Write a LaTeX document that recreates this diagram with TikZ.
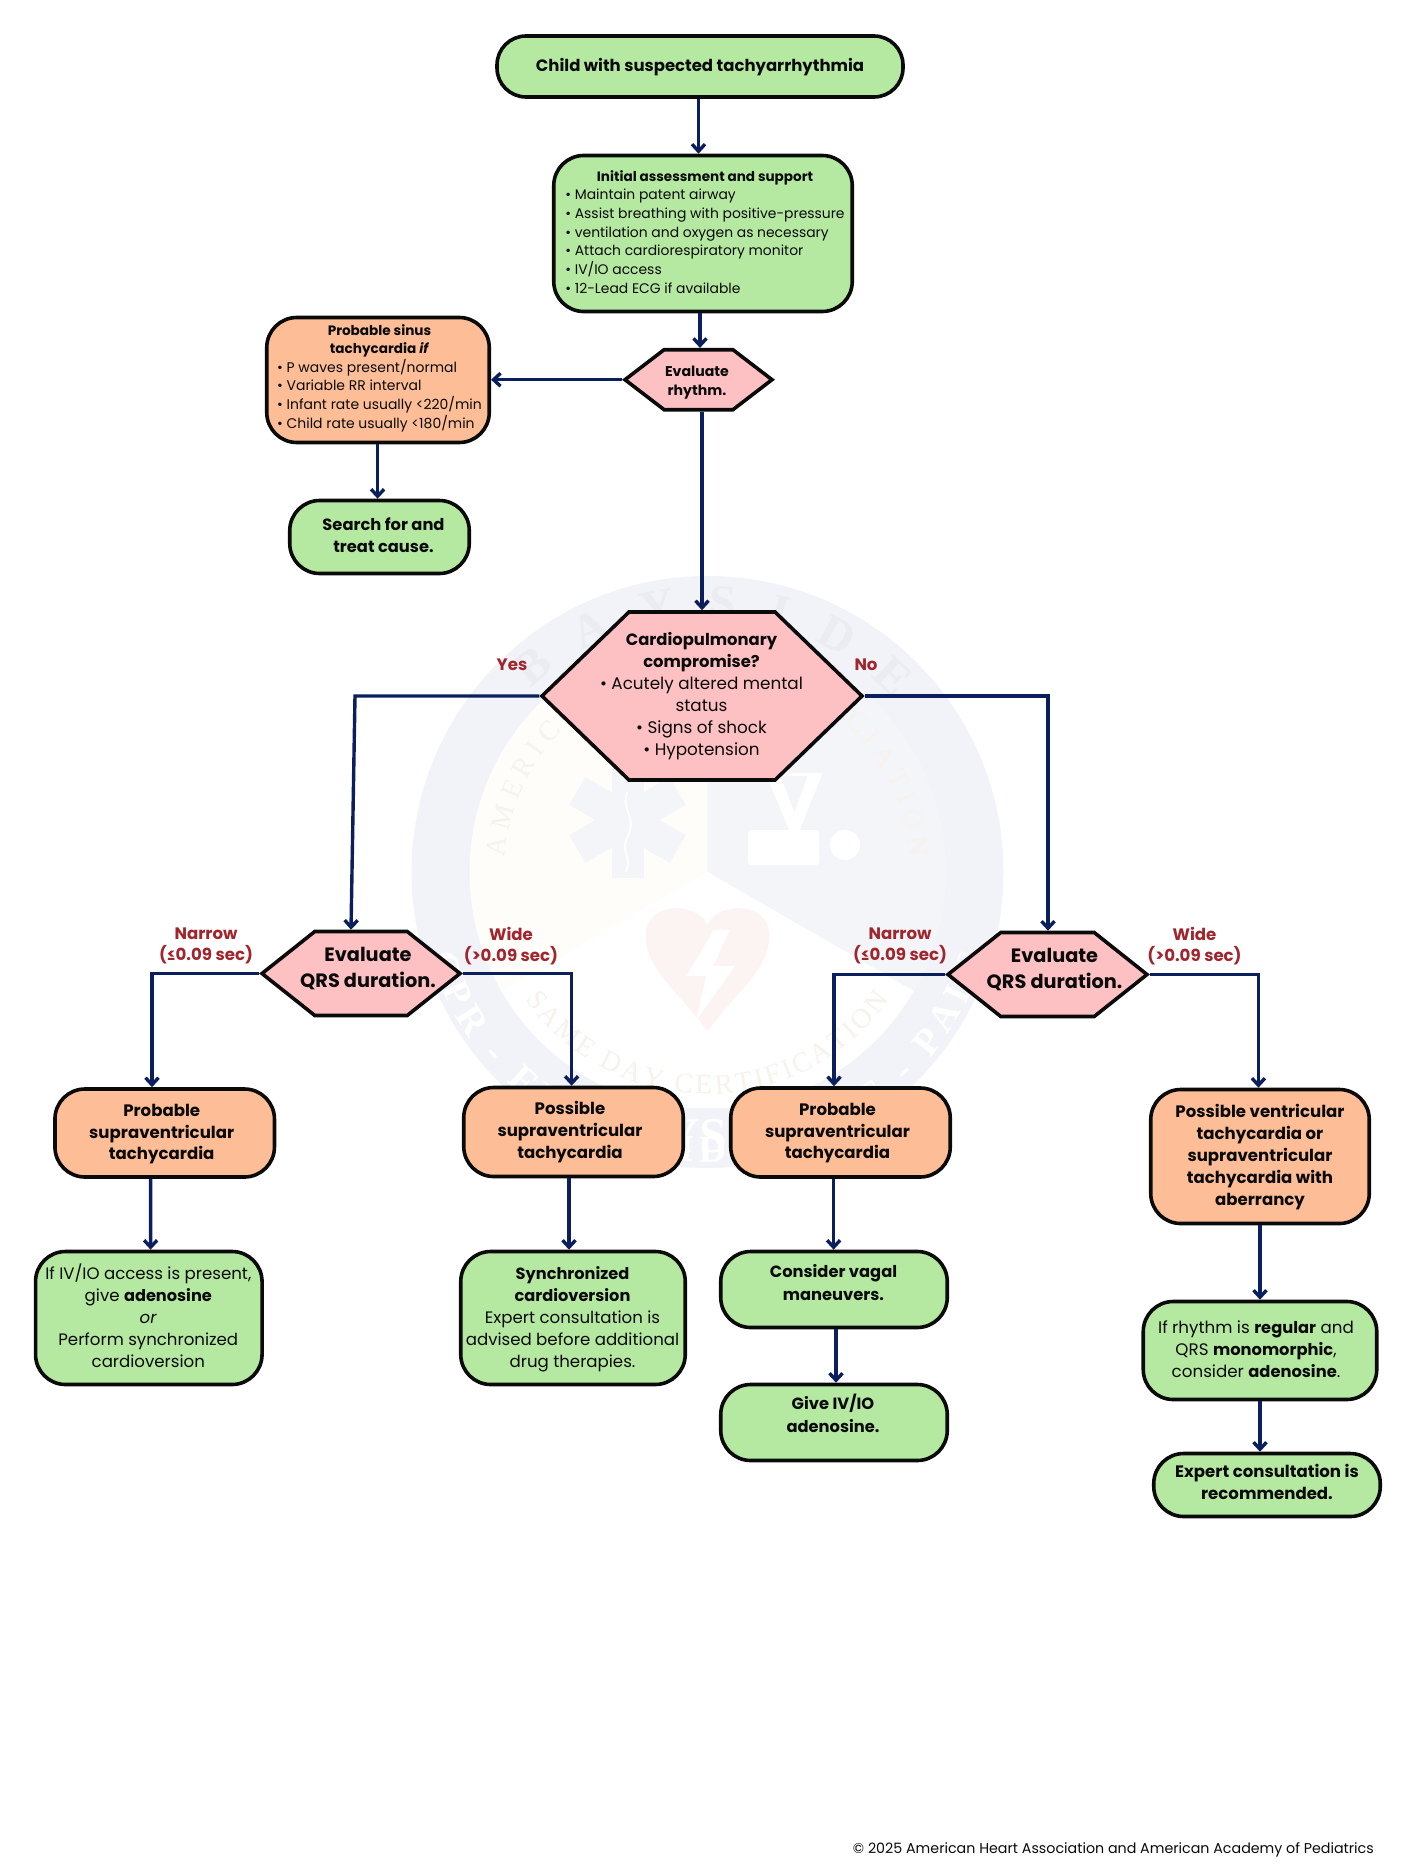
\documentclass[tikz,border=0pt]{standalone}
\usepackage{fontspec}
\setmainfont{Poppins}[BoldFont=* Bold,ItalicFont=* Italic,BoldItalicFont=* Bold Italic,BoldFeatures={Scale=0.975},BoldItalicFeatures={Scale=0.975}]
\newfontfamily\wmfont{Liberation Serif}[Scale=1]
\usetikzlibrary{arrows.meta,shapes.symbols,decorations.text}
\definecolor{gfill}{HTML}{B5E8A0}
\definecolor{ofill}{HTML}{FDBD96}
\definecolor{pfill}{HTML}{FEC1C3}
\definecolor{navy}{HTML}{0B1F5E}
\definecolor{lab}{HTML}{A0252C}
\definecolor{ink}{HTML}{0A0A0A}
\definecolor{wmring}{HTML}{F2F3F8}
\definecolor{wmcream}{HTML}{FEFDFA}
\definecolor{wmsec}{HTML}{F4F5F9}
\definecolor{wmstar}{HTML}{F4F5F8}
\definecolor{wmheart}{HTML}{FCF3F3}
\definecolor{wmletter}{HTML}{EAECF1}
\definecolor{wmin}{HTML}{F7F2EB}
\newcommand\T[6]{\makebox[0pt]{\hspace*{\dimexpr 2\dimexpr #1pt\relax\relax}\raisebox{#2pt}[0pt][0pt]{\fontsize{#3}{#4}\selectfont\begin{tabular}[c]{@{}#5@{}}#6\end{tabular}}}}
\newcommand\hd[1]{\multicolumn{1}{@{}c@{}}{\textbf{#1}}}
\tikzset{
 bx/.style={draw=ink,line width=3.6pt,rounded corners=30pt,inner sep=0pt,text=ink},
 gbox/.style={bx,fill=gfill},
 obox/.style={bx,fill=ofill},
 hexa/.style={draw=ink,line width=3.6pt,fill=pfill,shape=signal,signal to=west and east,inner sep=0pt,text=ink},
 arr/.style={draw=navy,line width=3.4pt,-{Straight Barb[length=7pt,width=13pt,line width=3.4pt]}},
 lbl/.style={text=lab,font=\bfseries\fontsize{17}{21.5}\selectfont,align=center,inner sep=0pt},
}
\begin{document}
\begin{tikzpicture}[x=1pt,y=-1pt]
\useasboundingbox (0,0) rectangle (1410,1867);
% watermark
\begin{scope}[shift={(707.5,872)},y=1pt]
 \fill[wmring] (0,0) circle (296);
 \fill[wmcream] (0,0) circle (238);
 \fill[wmsec] (0,0) -- (0,238) arc (90:-30:238) -- cycle;
 \fill[white] (0,0) -- (-30:238) arc (-30:-150:238) -- cycle;
 \fill[wmring,rounded corners=6pt] (-190,-236) rectangle (190,-291);
 \node[text=white,font=\wmfont\bfseries\fontsize{50}{50}\selectfont,inner sep=0pt] (wmb) at (0,-264) {BAYSIDE};
 \path[decorate,decoration={text along path,text align={fit to path},text color=wmletter,
   text={|\wmfont\bfseries\fontsize{48}{48}\selectfont|BAYSIDE}}] (134:254) arc (134:43:254);
 \path[decorate,decoration={text along path,text align={fit to path},text color=wmin,
   text={|\wmfont\fontsize{28}{28}\selectfont|AMERICAN HEART ASSOCIATION}}] (176:203) arc (176:4:203);
 \path[decorate,decoration={text along path,text align={fit to path},text color=wmin,
   text={|\wmfont\fontsize{28}{28}\selectfont|SAME DAY CERTIFICATION}}] (215:222) arc (215:325:222);
 \path[decorate,decoration={text along path,text align={fit to path},text color=white,
   text={|\wmfont\bfseries\fontsize{38}{38}\selectfont|CPR - FIRST AID - ACLS - PALS}}] (197:290) arc (197:343:290);
 % star of life
 \foreach \a in {90,30,-30}{
  \draw[wmstar,line width=32pt] (-80,52)++(\a:-58) -- ++(\a:116);}
 \draw[white,line width=2pt] (-80,80) .. controls (-88,65) and (-70,55) .. (-80,35) .. controls (-88,20) and (-74,15) .. (-82,0);
 % V logo
 \fill[white] (58,99) -- (115,99) -- (87,29) -- cycle;
 \fill[wmsec] (73,96) -- (100,96) -- (87,60) -- cycle;
 \fill[white,rounded corners=3pt] (40.5,42) rectangle (111.5,7);
 \fill[white] (137.5,27) circle (15);
 % heart
 \fill[wmheart] (0,-159) .. controls (-30,-119) and (-62,-96) .. (-62,-64) .. controls (-62,-30) and (-12,-28) .. (0,-53) .. controls (12,-28) and (62,-30) .. (62,-64) .. controls (62,-96) and (30,-119) .. (0,-159) -- cycle;
 \fill[white] (6,-58) -- (-21,-104) -- (-1,-104) -- (-12,-149) -- (28,-94) -- (6,-94) -- (22,-58) -- cycle;
\end{scope}
% boxes
\node[gbox,rounded corners=29pt,minimum width=406pt,minimum height=61pt] (top) at (700,66.5) {\T{0}{-5}{16.9}{20}{c}{\textbf{Child with suspected tachyarrhythmia}}};
\node[gbox,minimum width=298.5pt,minimum height=156pt] (init) at (703,233.5) {\T{2}{-3.5}{13.9}{18.66}{l}{\hd{Initial assessment and support}\\ • Maintain patent airway\\ • Assist breathing with positive-pressure\\ • ventilation and oxygen as necessary\\ • Attach cardiorespiratory monitor\\ • IV/IO access\\ • 12-Lead ECG if available}};
\node[hexa,signal pointer angle=75,minimum width=147pt,minimum height=60pt] (rhythm) at (698.5,379.7) {\T{-1.5}{-6.4}{14.5}{19}{c}{\textbf{Evaluate}\\ \textbf{rhythm.}}};
\node[obox,minimum width=222.5pt,minimum height=125pt] (sinus) at (378,380) {\T{1.5}{-1.5}{13.95}{18.55}{l}{\hd{Probable sinus}\\ \hd{tachycardia \textit{if}}\\ • P waves present/normal\\ • Variable RR interval\\ • Infant rate usually <220/min\\ • Child rate usually <180/min}};
\node[gbox,minimum width=179.5pt,minimum height=73pt] (search) at (379.5,537) {\T{4}{-4.4}{16.7}{22.2}{c}{\textbf{Search for and}\\ \textbf{treat cause.}}};
\node[hexa,signal pointer angle=88,minimum width=320pt,minimum height=168pt] (cardio) at (702,696) {\T{-0.5}{-4.5}{16.8}{22}{c}{\textbf{Cardiopulmonary}\\ \textbf{compromise?}\\ • Acutely altered mental\\ status\\ • Signs of shock\\ • Hypotension}};
\node[hexa,signal pointer angle=77,minimum width=198pt,minimum height=84pt] (qrsL) at (361,973.5) {\T{7}{-0.5}{19.8}{26}{c}{\textbf{Evaluate}\\ \textbf{QRS duration.}}};
\node[hexa,signal pointer angle=77,minimum width=199pt,minimum height=84pt] (qrsR) at (1047.5,974.5) {\T{7}{-0.5}{19.8}{26}{c}{\textbf{Evaluate}\\ \textbf{QRS duration.}}};
\node[obox,minimum width=219.5pt,minimum height=88pt] (psvtL) at (164.7,1133) {\T{-3}{-5}{17}{21.9}{c}{\textbf{Probable}\\ \textbf{supraventricular}\\ \textbf{tachycardia}}};
\node[obox,minimum width=219.5pt,minimum height=89pt] (psvtM) at (573.5,1132) {\T{-3.5}{-4.5}{17}{21.9}{c}{\textbf{Possible}\\ \textbf{supraventricular}\\ \textbf{tachycardia}}};
\node[obox,minimum width=219.5pt,minimum height=89pt] (psvtR) at (840.5,1132.5) {\T{-3}{-4.5}{17}{21.9}{c}{\textbf{Probable}\\ \textbf{supraventricular}\\ \textbf{tachycardia}}};
\node[obox,minimum width=218.5pt,minimum height=134pt] (pvt) at (1260,1156.5) {\T{0}{-5}{17}{22}{c}{\textbf{Possible ventricular}\\ \textbf{tachycardia or}\\ \textbf{supraventricular}\\ \textbf{tachycardia with}\\ \textbf{aberrancy}}};
\node[gbox,minimum width=226.5pt,minimum height=133pt] (gL) at (148.8,1318) {\T{-0.5}{-5}{16.6}{22}{c}{If IV/IO access is present,\\ give \textbf{adenosine}\\ \textit{or}\\ Perform synchronized\\ cardioversion}};
\node[gbox,minimum width=224.5pt,minimum height=133pt] (gS) at (573,1318) {\T{-0.5}{-5}{16.6}{22}{c}{\textbf{Synchronized}\\ \textbf{cardioversion}\\ Expert consultation is\\ advised before additional\\ drug therapies.}};
\node[gbox,minimum width=226.5pt,minimum height=76pt] (vagal) at (834,1289.5) {\T{-0.5}{0.6}{16.7}{22.8}{c}{\textbf{Consider vagal}\\ \textbf{maneuvers.}}};
\node[gbox,minimum width=226.5pt,minimum height=76pt] (give) at (834,1422.5) {\T{-1}{1.8}{16.7}{22.8}{c}{\textbf{Give IV/IO}\\ \textbf{adenosine.}}};
\node[gbox,minimum width=233.5pt,minimum height=98pt] (regular) at (1260,1350.5) {\T{-4}{-5}{16.7}{22}{c}{If rhythm is \textbf{regular} and\\ QRS \textbf{monomorphic},\\ consider \textbf{adenosine}.}};
\node[gbox,rounded corners=30pt,minimum width=226.5pt,minimum height=63pt] (expert) at (1267,1485) {\T{0}{-3.2}{17}{22}{c}{\textbf{Expert consultation is}\\ \textbf{recommended.}}};
% labels
\node[lbl] (yes) at (512,664.5) {Yes};
\node[lbl] (no) at (866,665) {No};
\node[lbl] (nl) at (206,946) {Narrow\\(≤0.09 sec)};
\node[lbl] (wl) at (511,946) {Wide\\(>0.09 sec)};
\node[lbl] (nr) at (900,946) {Narrow\\(≤0.09 sec)};
\node[lbl] (wr) at (1194.5,946) {Wide\\(>0.09 sec)};
\node[inner sep=0pt,text=ink,font=\fontsize{14.25}{16}\selectfont,anchor=east] (copy) at (1374,1850) {© 2025 American Heart Association and American Academy of Pediatrics};
% connectors
\coordinate (yb) at (355,696);
\draw[arr] ([xshift=-1.5pt]top.south) -- ([xshift=-4.5pt]init.north);
\draw[arr] ([xshift=-3pt]init.south) -- ([xshift=1.5pt]rhythm.north);
\draw[arr] (rhythm.west) -- (sinus.east |- rhythm.west);
\draw[arr] ([xshift=3.5pt]rhythm.south) -- (cardio.north);
\draw[arr] ([xshift=-0.4pt]sinus.south) -- ([xshift=-1.9pt]search.north);
\draw[arr] (cardio.west) -- (yb) -- ([xshift=-10pt]qrsL.north);
\draw[arr] (cardio.east) -| ([xshift=0.5pt]qrsR.north);
\draw[arr] (qrsL.west) -| ([xshift=-12.7pt]psvtL.north);
\draw[arr] (qrsL.east) -| ([xshift=-1.9pt]psvtM.north);
\draw[arr] (qrsR.west) -| ([xshift=-6.5pt]psvtR.north);
\draw[arr] (qrsR.east) -| ([xshift=-1.6pt]pvt.north);
\draw[arr] ([xshift=-14.1pt]psvtL.south) -- ([xshift=1.8pt]gL.north);
\draw[arr] ([xshift=-4.5pt]psvtM.south) -- ([xshift=-4pt]gS.north);
\draw[arr] ([xshift=-6.9pt]psvtR.south) -- ([xshift=-0.4pt]vagal.north);
\draw[arr] ([xshift=2pt]vagal.south) -- ([xshift=2pt]give.north);
\draw[arr] (pvt.south) -- (regular.north);
\draw[arr] (regular.south) -- ([xshift=-7pt]expert.north);
\end{tikzpicture}
\end{document}
